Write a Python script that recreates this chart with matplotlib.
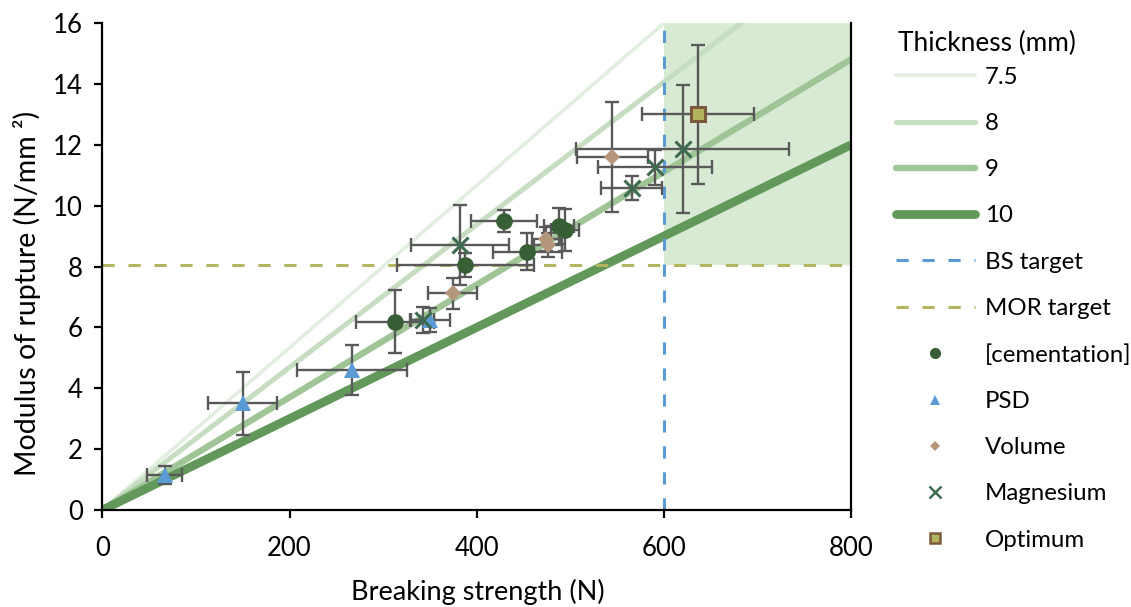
import matplotlib
matplotlib.use("Agg")
import matplotlib.pyplot as plt
from matplotlib.lines import Line2D

plt.rcParams['font.family'] = ['Lato', 'DejaVu Sans']

# Thickness lines: MOR value at x=0 and at x=800
thickness_labels = ["7.5", "8", "9", "10"]
line_x = [0, 800]
line_y_end = [21.33, 18.75, 14.81, 12.0]
line_colors = ["#e2eee0", "#c6ddc1", "#9fc597", "#62995a"]
line_widths = [2.6, 3.6, 4.6, 6.3]

bs_target = 600
mor_target = 8.05

cem_x = [312.6, 387.7, 429.4, 453.9, 488.0, 494.2]
cem_y = [6.19, 8.05, 9.49, 8.49, 9.33, 9.20]
cem_xerr = [42, 73, 35, 37, 16, 15]
cem_yerr = [1.03, 0.40, 0.37, 0.62, 0.60, 0.70]

psd_x = [66.9, 150.0, 266.7, 350.0]
psd_y = [1.15, 3.50, 4.60, 6.24]
psd_xerr = [18.7, 36.6, 58.6, 21]
psd_yerr = [0.30, 1.05, 0.82, 0.40]

vol_x = [374.2, 474.0, 476.0, 544.7]
vol_y = [7.12, 8.90, 8.70, 11.61]
vol_xerr = [26.5, 15, 15, 38]
vol_yerr = [0.50, 0.40, 0.40, 1.81]

mag_x = [342.2, 382.0, 565.4, 590.3, 619.9]
mag_y = [6.24, 8.71, 10.57, 11.26, 11.85]
mag_xerr = [12, 52, 32.6, 61, 114]
mag_yerr = [0.43, 1.31, 0.40, 0.57, 2.10]

opt_x = [636.6]
opt_y = [13.0]
opt_xerr = [59.6]
opt_yerr = [2.29]

FS = 18.5
LFS = 17.3

fig = plt.figure(figsize=(11.31, 6.07), dpi=100)
ax = fig.add_axes([0.0905, 0.1598, 0.662, 0.8022])

ax.set_xlim(0, 800)
ax.set_ylim(0, 16)

# target zone
ax.fill_between([bs_target, 800], mor_target, 16, color="#d8ead4", zorder=0, linewidth=0)

handles = []
for lab, ye, c, w in zip(thickness_labels, line_y_end, line_colors, line_widths):
    ax.plot(line_x, [0, ye], color=c, linewidth=w, solid_capstyle='butt', zorder=1)
    handles.append(Line2D([], [], color=c, linewidth=w, solid_capstyle='round', label=lab))

dash = (4.0, 4.5)
ax.axvline(bs_target, color="#5b9bd5", linewidth=2.2, dashes=dash, zorder=2)
ax.axhline(mor_target, color="#b4b560", linewidth=2.2, dashes=dash, zorder=2)
handles.append(Line2D([], [], color="#5b9bd5", linewidth=2.2, dashes=dash, label="BS target"))
handles.append(Line2D([], [], color="#b4b560", linewidth=2.2, dashes=dash, label="MOR target"))

eb_kw = dict(fmt='none', ecolor="#595959", elinewidth=1.7, capsize=5, capthick=1.7, zorder=3)

series = [
    ("[cementation]", cem_x, cem_y, cem_xerr, cem_yerr,
     dict(marker='o', ms=12, mfc="#375e35", mec="#375e35", mew=0), dict(marker='o', ms=8)),
    ("PSD", psd_x, psd_y, psd_xerr, psd_yerr,
     dict(marker='^', ms=11, mfc="#5b9bd5", mec="#5b9bd5", mew=0), dict(marker='^', ms=7)),
    ("Volume", vol_x, vol_y, vol_xerr, vol_yerr,
     dict(marker='D', ms=8, mfc="#b4977b", mec="#b4977b", mew=0), dict(marker='D', ms=5)),
    ("Magnesium", mag_x, mag_y, mag_xerr, mag_yerr,
     dict(marker='x', ms=11, mfc="none", mec="#3e6b50", mew=2.2), dict(marker='x', ms=8, mew=1.8)),
    ("Optimum", opt_x, opt_y, opt_xerr, opt_yerr,
     dict(marker='s', ms=10, mfc="#b3b45e", mec="#7b5a3a", mew=2.2), dict(marker='s', ms=6.5, mew=1.8)),
]

for lab, xs, ys, xe, ye, mk, lmk in series:
    ax.errorbar(xs, ys, xerr=xe, yerr=ye, **eb_kw)
for lab, xs, ys, xe, ye, mk, lmk in series:
    ax.plot(xs, ys, linestyle='none', zorder=4, **mk)
    hk = dict(mk)
    hk.update(lmk)
    handles.append(Line2D([], [], linestyle='none', label=lab, **hk))

ax.spines['top'].set_visible(False)
for s in ['left', 'bottom', 'right']:
    ax.spines[s].set_linewidth(1.6)
    ax.spines[s].set_color('black')
    ax.spines[s].set_zorder(5)

ax.set_xticks([0, 200, 400, 600, 800])
ax.set_yticks(range(0, 17, 2))
ax.tick_params(axis='both', direction='out', length=6, width=1.6, labelsize=FS)
ax.tick_params(axis='x', pad=13)
ax.tick_params(axis='y', pad=8, right=False)

ax.set_xlabel("Breaking strength (N)", fontsize=19.5)
ax.xaxis.set_label_coords(0.501, -0.142)
ax.set_ylabel("Modulus of rupture (N/mm \u00b2)", fontsize=20.5)
ax.yaxis.set_label_coords(-0.082, 0.445)

fig.text(898 / 1131, 1 - 43 / 607, "Thickness (mm)", fontsize=18.9,
         ha='left', va='center')

leg = ax.legend(handles=handles, loc='upper left', bbox_to_anchor=(0.792, 0.890),
                bbox_transform=fig.transFigure, frameon=False, fontsize=LFS,
                handlelength=3.3, handletextpad=0.4, labelspacing=1.05,
                borderaxespad=0, borderpad=0)

fig.savefig("out.png", dpi=100)
